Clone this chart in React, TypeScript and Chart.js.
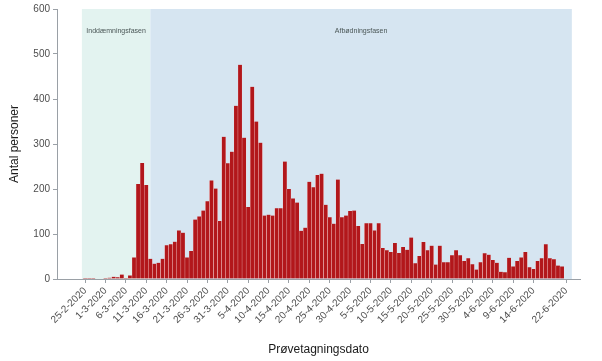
import React, { useEffect, useRef } from "react";
import { Chart, registerables } from "chart.js";

Chart.register(...registerables);

// Daily categories (sample dates)
const dates: string[] = [
  "25-2-2020", "26-2-2020", "27-2-2020", "28-2-2020", "29-2-2020",
  "1-3-2020", "2-3-2020", "3-3-2020", "4-3-2020", "5-3-2020", "6-3-2020", "7-3-2020", "8-3-2020", "9-3-2020", "10-3-2020",
  "11-3-2020", "12-3-2020", "13-3-2020", "14-3-2020", "15-3-2020", "16-3-2020", "17-3-2020", "18-3-2020", "19-3-2020", "20-3-2020",
  "21-3-2020", "22-3-2020", "23-3-2020", "24-3-2020", "25-3-2020", "26-3-2020", "27-3-2020", "28-3-2020", "29-3-2020", "30-3-2020", "31-3-2020",
  "1-4-2020", "2-4-2020", "3-4-2020", "4-4-2020", "5-4-2020", "6-4-2020", "7-4-2020", "8-4-2020", "9-4-2020", "10-4-2020",
  "11-4-2020", "12-4-2020", "13-4-2020", "14-4-2020", "15-4-2020", "16-4-2020", "17-4-2020", "18-4-2020", "19-4-2020", "20-4-2020",
  "21-4-2020", "22-4-2020", "23-4-2020", "24-4-2020", "25-4-2020", "26-4-2020", "27-4-2020", "28-4-2020", "29-4-2020", "30-4-2020",
  "1-5-2020", "2-5-2020", "3-5-2020", "4-5-2020", "5-5-2020", "6-5-2020", "7-5-2020", "8-5-2020", "9-5-2020", "10-5-2020",
  "11-5-2020", "12-5-2020", "13-5-2020", "14-5-2020", "15-5-2020", "16-5-2020", "17-5-2020", "18-5-2020", "19-5-2020", "20-5-2020",
  "21-5-2020", "22-5-2020", "23-5-2020", "24-5-2020", "25-5-2020", "26-5-2020", "27-5-2020", "28-5-2020", "29-5-2020", "30-5-2020", "31-5-2020",
  "1-6-2020", "2-6-2020", "3-6-2020", "4-6-2020", "5-6-2020", "6-6-2020", "7-6-2020", "8-6-2020", "9-6-2020", "10-6-2020",
  "11-6-2020", "12-6-2020", "13-6-2020", "14-6-2020", "15-6-2020", "16-6-2020", "17-6-2020", "18-6-2020", "19-6-2020", "20-6-2020",
  "21-6-2020", "22-6-2020",
];

// Number of persons per sample date
const persons: number[] = [
  2, 2, 2, 1, 0,
  2, 3, 5, 4, 10, 2, 8, 48, 211, 258,
  209, 45, 34, 36, 45, 75, 77, 83, 108, 103,
  48, 62, 132, 139, 152, 173, 219, 201, 129, 316, 257,
  283, 385, 476, 314, 160, 427, 350, 303, 141, 143,
  141, 157, 157, 261, 200, 179, 170, 107, 114, 216,
  204, 231, 234, 165, 137, 123, 221, 137, 141, 151,
  152, 118, 78, 124, 124, 108, 124, 69, 64, 60,
  80, 58, 71, 65, 92, 35, 51, 82, 64, 74,
  32, 74, 37, 37, 53, 64, 53, 40, 46, 33, 21,
  37, 57, 54, 42, 36, 16, 15, 47, 28, 40,
  48, 60, 26, 22, 40, 46, 77, 46, 44, 30,
  28, 1,
];

const tickLabels: string[] = [
  "25-2-2020", "1-3-2020", "6-3-2020", "11-3-2020", "16-3-2020", "21-3-2020", "26-3-2020", "31-3-2020",
  "5-4-2020", "10-4-2020", "15-4-2020", "20-4-2020", "25-4-2020", "30-4-2020", "5-5-2020", "10-5-2020",
  "15-5-2020", "20-5-2020", "25-5-2020", "30-5-2020", "4-6-2020", "9-6-2020", "14-6-2020", "22-6-2020",
];

const phaseNames: string[] = ["Inddæmningsfasen", "Afbødningsfasen"];
const phaseStart: string[] = ["25-2-2020", "12-3-2020"];
const phaseEnd: string[] = ["12-3-2020", "22-6-2020"];
const phaseColors: string[] = ["#E3F3F0", "#D6E5F1"];

const FONT = "'Liberation Sans', Arial, sans-serif";
const AXIS = "#9aa0a6";

const phasePlugin = {
  id: "phases",
  beforeDraw(chart: any) {
    const { ctx, chartArea, scales } = chart;
    const x = scales.x;
    ctx.save();
    phaseNames.forEach((name, i) => {
      const s = dates.indexOf(phaseStart[i]) + (i === 0 ? -0.8 : 0);
      const e = dates.indexOf(phaseEnd[i]) + (i === 0 ? 0 : 1.4);
      const x0 = x.getPixelForValue(s);
      const x1 = x.getPixelForValue(e);
      ctx.fillStyle = phaseColors[i];
      ctx.fillRect(x0, chartArea.top, x1 - x0, chartArea.bottom - chartArea.top);
      ctx.fillStyle = "#4a5656";
      ctx.font = `7px ${FONT}`;
      ctx.textAlign = "center";
      ctx.textBaseline = "middle";
      ctx.fillText(name, (x0 + x1) / 2, chartArea.top + 22);
    });
    ctx.restore();
  },
};

export default function App() {
  const ref = useRef<HTMLCanvasElement | null>(null);

  useEffect(() => {
    if (!ref.current) return;
    const chart = new Chart(ref.current, {
      type: "bar",
      data: {
        datasets: [
          {
            data: persons.map((v, i) => ({ x: i, y: v })),
            backgroundColor: "#B2171B",
            borderColor: "rgba(255,225,225,0.85)",
            borderWidth: { left: 0.45, right: 0.45, top: 0, bottom: 0 },
            borderSkipped: false,
            barPercentage: 1,
            categoryPercentage: 1,
          },
        ],
      },
      options: {
        animation: false,
        responsive: false,
        maintainAspectRatio: false,
        layout: { padding: { top: 6, right: 22, left: 0, bottom: 0 } },
        plugins: { legend: { display: false }, tooltip: { enabled: false } },
        scales: {
          x: {
            type: "linear",
            offset: false,
            min: -6.9,
            max: 121.4,
            afterBuildTicks: (axis: any) => {
              axis.ticks = tickLabels.map((t) => ({ value: dates.indexOf(t) }));
            },
            afterFit: (s: any) => {
              s.height = 82;
            },
            ticks: {
              autoSkip: false,
              minRotation: 45,
              maxRotation: 45,
              padding: 2,
              color: "#4d4d4d",
              font: { size: 10, family: FONT },
              callback: (v: any) => {
                const lbl = dates[Math.round(Number(v))];
                return tickLabels.includes(lbl) ? lbl : "";
              },
            },
            grid: { offset: false, drawOnChartArea: false, drawTicks: true, tickLength: 4, color: AXIS },
            border: { display: true, color: AXIS, width: 1 },
            title: {
              display: true,
              text: "Prøvetagningsdato",
              color: "#1a1a1a",
              font: { size: 12, family: FONT },
              padding: { top: 0, bottom: 4 },
            },
          },
          y: {
            min: 0,
            max: 600,
            afterFit: (s: any) => {
              s.width = 57;
            },
            ticks: {
              stepSize: 100,
              padding: 3,
              color: "#4d4d4d",
              font: { size: 10, family: FONT },
            },
            grid: { drawOnChartArea: false, drawTicks: true, tickLength: 4, color: AXIS },
            border: { display: true, color: AXIS, width: 1 },
            title: {
              display: true,
              text: "Antal personer",
              color: "#1a1a1a",
              font: { size: 12, family: FONT },
              padding: { top: 7, bottom: 0 },
            },
          },
        },
      },
      plugins: [phasePlugin],
    } as any);
    return () => chart.destroy();
  }, []);

  return (
    <div style={{ position: "fixed", left: 0, top: 0, width: 602, height: 361, background: "#ffffff" }}>
      <canvas ref={ref} width={602} height={361} style={{ display: "block" }} />
    </div>
  );
}
